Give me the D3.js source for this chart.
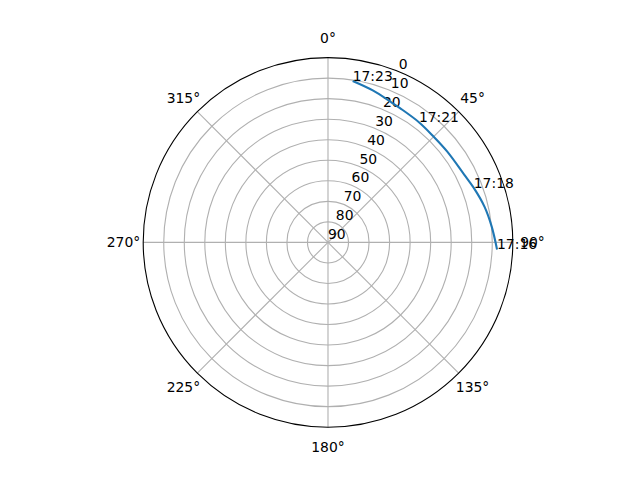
<!DOCTYPE html>
<html>
<head>
<meta charset="utf-8">
<script src="https://cdn.jsdelivr.net/npm/d3@7"></script>
<style>
  body { margin: 0; background: #fff; }
  text { font-family: "DejaVu Sans", sans-serif; font-size: 13.9px; fill: #000; }
</style>
</head>
<body>
<div id="chart"></div>
<script>
// satellite pass, azimuth (deg, clockwise from north) / elevation (deg)
const passAz = [92.4, 84.5, 77.2, 69.5, 63.5, 52.6, 44.9, 37.1, 28.2, 23.8, 16.6, 8.7];
const passEl = [7.6, 9.9, 11.8, 14.2, 15.9, 17.0, 17.2, 16.6, 15.8, 15.0, 12.9, 10.5];
const timeLabels = ["17:16", "17:18", "17:21", "17:23"];
const timeIndex = [0, 3, 7, 11];
const thetaTicks = [0, 45, 90, 135, 180, 225, 270, 315];
const rTicks = [0, 10, 20, 30, 40, 50, 60, 70, 80, 90];

const width = 640;
const height = 480;
const cx = 328, cy = 242.4, R = 184.8;

const svg = d3.select("#chart")
    .append("svg")
    .attr("width", width)
    .attr("height", height);

const rScale = d3.scaleLinear().domain([90, 0]).range([0, R]);
const rad = d => d * Math.PI / 180;

const g = svg.append("g").attr("transform", `translate(${cx},${cy})`);

// grid circles
g.selectAll("circle.grid")
    .data(rTicks.filter(v => v > 0 && v < 90))
    .enter().append("circle")
    .attr("r", d => rScale(d))
    .attr("fill", "none")
    .attr("stroke", "#b0b0b0")
    .attr("stroke-width", 1.1);

// spokes
g.selectAll("line.spoke")
    .data(thetaTicks)
    .enter().append("line")
    .attr("x1", 0).attr("y1", 0)
    .attr("x2", d => R * Math.sin(rad(d)))
    .attr("y2", d => -R * Math.cos(rad(d)))
    .attr("stroke", "#b0b0b0")
    .attr("stroke-width", 1.1);

// outer frame
g.append("circle")
    .attr("r", R)
    .attr("fill", "none")
    .attr("stroke", "#000")
    .attr("stroke-width", 1.1);

// theta labels
g.selectAll("text.theta")
    .data(thetaTicks)
    .enter().append("text")
    .attr("x", d => 204.5 * Math.sin(rad(d)))
    .attr("y", d => -204.5 * Math.cos(rad(d)))
    .attr("text-anchor", "middle")
    .attr("dominant-baseline", "central")
    .text(d => d + "°");

// radial labels at 22.5°
g.selectAll("text.rlab")
    .data(rTicks)
    .enter().append("text")
    .attr("x", d => rScale(d) * Math.sin(rad(22.5)))
    .attr("y", d => -rScale(d) * Math.cos(rad(22.5)) - 8)
    .attr("text-anchor", "start")
    .attr("dominant-baseline", "central")
    .text(d => d);

// pass track
const pts = passAz.map((a, i) => [a, passEl[i]]);
const line = d3.lineRadial()
    .angle(d => rad(d[0]))
    .radius(d => rScale(d[1]))
    .curve(d3.curveCatmullRom);

g.append("path")
    .datum(pts)
    .attr("d", line)
    .attr("fill", "none")
    .attr("stroke", "#1f77b4")
    .attr("stroke-width", 2.1)
    .attr("stroke-linejoin", "round");

// time annotations
g.selectAll("text.time")
    .data(timeIndex)
    .enter().append("text")
    .attr("x", d => rScale(passEl[d]) * Math.sin(rad(passAz[d])))
    .attr("y", d => -rScale(passEl[d]) * Math.cos(rad(passAz[d])))
    .attr("text-anchor", "start")
    .text((d, i) => timeLabels[i]);
</script>
</body>
</html>
